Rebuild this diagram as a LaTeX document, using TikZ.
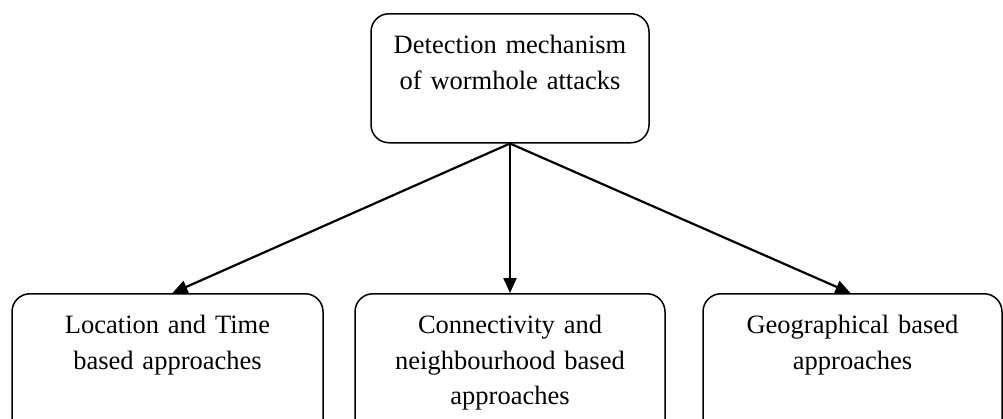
\documentclass[tikz,border=0pt]{standalone}
\usepackage{fontspec}
\setmainfont{Liberation Serif}
\usetikzlibrary{arrows.meta, positioning}

\begin{document}
\begin{tikzpicture}[x=1pt,y=-1pt,
  mechbox/.style={draw, line width=1.5pt, rounded corners=18pt, anchor=north,
    align=center, inner sep=0pt, text height=40pt,
    font=\fontsize{26.5}{35.5}\selectfont},
  mecharrow/.style={line width=2.2pt, -{Triangle[length=15pt,width=13pt]}}]
  \path[use as bounding box] (0,0) rectangle (1003,418);

  % Root box
  \node[mechbox, text width=278pt, text depth=89pt] (detect) at (510,13)
    {Detection mechanism\\of wormhole attacks};

  % Three approach boxes
  \node[mechbox, text width=311pt, text depth=127pt] (loctime) at (167.5,293)
    {Location and Time\\based approaches};
  \node[mechbox, text width=310pt, text depth=127pt] (neigh) at (510,293)
    {Connectivity and\\neighbourhood based\\approaches};
  \node[mechbox, text width=299pt, text depth=127pt] (geo) at (852.5,293)
    {Geographical based\\approaches};

  % Arrows
  \draw[mecharrow] (detect.south) -- ([xshift=5pt]loctime.north);
  \draw[mecharrow] (detect.south) -- (neigh.north);
  \draw[mecharrow] (detect.south) -- ([xshift=-2pt]geo.north);
\end{tikzpicture}
\end{document}
